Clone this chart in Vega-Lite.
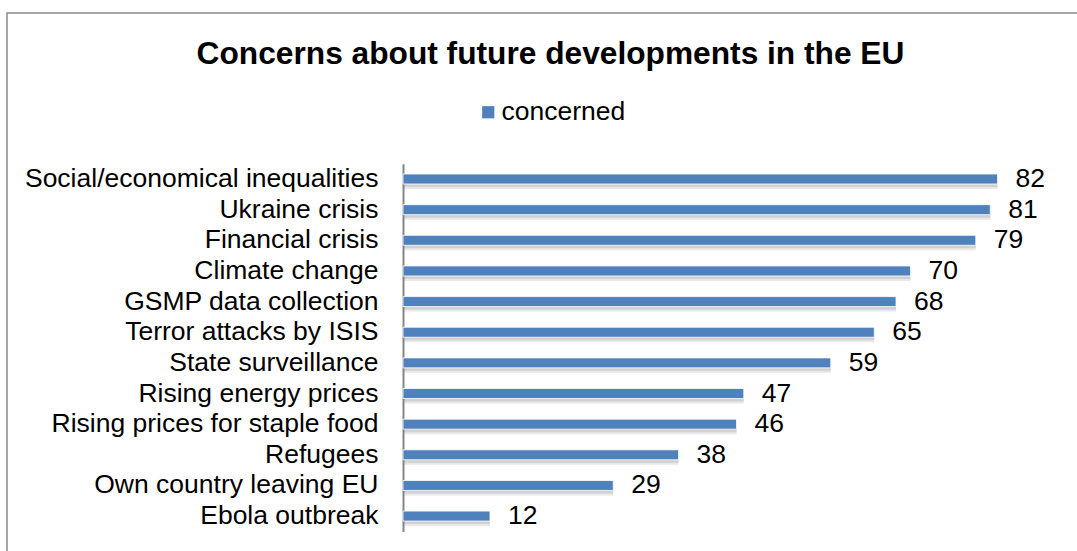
{
  "$schema": "https://vega.github.io/schema/vega-lite/v6.json",
  "width": 1090,
  "height": 558,
  "autosize": {"type": "none"},
  "padding": {"left": 7, "top": 13, "right": -20, "bottom": -20},
  "background": "#ffffff",
  "config": {
    "view": {"stroke": "#898989", "strokeWidth": 1.5},
    "font": "Liberation Sans"
  },
  "title": {
    "text": "Concerns about future developments in the EU",
    "font": "Liberation Sans",
    "fontSize": 31.7,
    "fontWeight": "bold",
    "color": "#000000",
    "anchor": "middle",
    "frame": "group",
    "offset": -58,
    "dx": -1.5
  },
  "data": {
    "values": [
      {"issue": "Social/economical inequalities", "value": 82, "series": "concerned"},
      {"issue": "Ukraine crisis", "value": 81, "series": "concerned"},
      {"issue": "Financial crisis", "value": 79, "series": "concerned"},
      {"issue": "Climate change", "value": 70, "series": "concerned"},
      {"issue": "GSMP data collection", "value": 68, "series": "concerned"},
      {"issue": "Terror attacks by ISIS", "value": 65, "series": "concerned"},
      {"issue": "State surveillance", "value": 59, "series": "concerned"},
      {"issue": "Rising energy prices", "value": 47, "series": "concerned"},
      {"issue": "Rising prices for staple food", "value": 46, "series": "concerned"},
      {"issue": "Refugees", "value": 38, "series": "concerned"},
      {"issue": "Own country leaving EU", "value": 29, "series": "concerned"},
      {"issue": "Ebola outbreak", "value": 12, "series": "concerned"}
    ]
  },
  "encoding": {
    "y": {
      "field": "issue",
      "type": "nominal",
      "sort": null,
      "scale": {"range": [150.7, 518.4], "paddingInner": 0.674, "paddingOuter": 0.337},
      "axis": {
        "title": null,
        "orient": "left",
        "offset": -396,
        "domainColor": "#868686",
        "domainWidth": 2,
        "ticks": false,
        "tickSize": 0,
        "labelPadding": 25,
        "labelFont": "Liberation Sans",
        "labelFontSize": 26.5,
        "labelColor": "#000000",
        "labelLimit": 0,
        "grid": false
      }
    },
    "x": {
      "field": "value",
      "type": "quantitative",
      "scale": {"domain": [-54.62, 95.72], "nice": false, "zero": false},
      "axis": null
    }
  },
  "layer": [
    {
      "mark": {"type": "bar", "color": "#808080", "opacity": 0.22},
      "encoding": {
        "x2": {"datum": 0},
        "yOffset": {"value": 3}
      }
    },
    {
      "mark": {"type": "bar", "color": "#808080", "opacity": 0.18},
      "encoding": {
        "x2": {"datum": 0},
        "yOffset": {"value": 5}
      }
    },
    {
      "mark": {"type": "bar", "stroke": "#ffffff", "strokeWidth": 1, "strokeOpacity": 0.8},
      "encoding": {
        "x2": {"datum": 0},
        "color": {
          "field": "series",
          "type": "nominal",
          "scale": {"range": ["#4F81BD"]},
          "legend": {
            "title": null,
            "orient": "none",
            "legendX": 468,
            "legendY": 86,
            "padding": 0,
            "symbolType": "square",
            "symbolSize": 150,
            "symbolStrokeWidth": 0,
            "labelOffset": 0,
            "labelFont": "Liberation Sans",
            "labelFontSize": 26.5,
            "labelColor": "#000000",
            "labelLimit": 0
          }
        }
      }
    },
    {
      "mark": {"type": "text", "align": "left", "baseline": "middle", "dx": 18, "font": "Liberation Sans", "fontSize": 26.5, "color": "#000000"},
      "encoding": {
        "text": {"field": "value", "type": "quantitative"}
      }
    }
  ]
}
